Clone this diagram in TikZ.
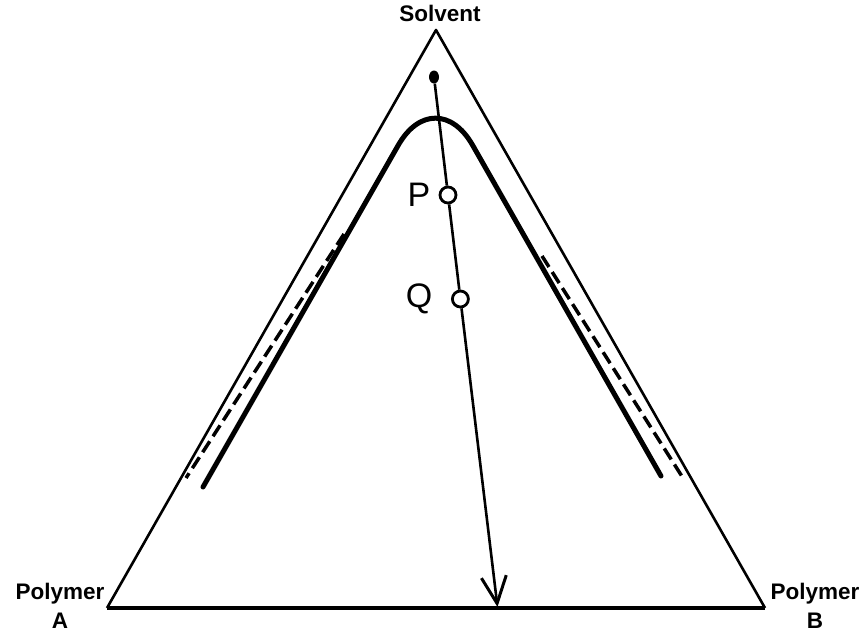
\documentclass[tikz,border=0pt]{standalone}
\usepackage{fontspec}
\setmainfont{Liberation Sans}
\usetikzlibrary{arrows.meta,shapes.geometric}
\begin{document}
\begin{tikzpicture}[x=1pt,y=-1pt,
  side/.style={line width=2.6pt,line join=round},
  base/.style={line width=3.4pt},
  binodal/.style={line width=5pt,rounded corners=75pt,line cap=round},
  spinodal/.style={line width=3.5pt,dash pattern=on 13pt off 6pt},
  tie/.style={line width=2.6pt},
  opendot/.style={circle,draw,line width=2.8pt,fill=white,minimum size=16pt,inner sep=0pt},
  fulldot/.style={ellipse,fill=black,minimum width=10pt,minimum height=13pt,inner sep=0pt},
  corner/.style={font=\bfseries\fontsize{22.5}{29}\selectfont,inner sep=0pt,anchor=base},
  letter/.style={font=\fontsize{34}{40}\selectfont,inner sep=0pt}]
\useasboundingbox (0,0) rectangle (864,632);
% vertices
\coordinate (S) at (436,30);
\coordinate (A) at (107,608);
\coordinate (B) at (765,608);
\draw[side] (A) -- (S) -- (B);
\draw[base] (A) -- (B);
% binodal curve
\coordinate (bl) at (203,487);
\coordinate (bt) at (435.5,80);
\coordinate (br) at (661,476);
\draw[binodal] (bl) -- (bt) -- (br);
% dashed (spinodal) lines
\coordinate (dl1) at (344,234);
\coordinate (dl2) at (186,478);
\coordinate (dr1) at (542,256);
\coordinate (dr2) at (683,478);
\draw[spinodal] (dl1) -- (dl2);
\draw[spinodal] (dr1) -- (dr2);
% composition path
\node[fulldot] (st) at (434,77) {};
\node[opendot] (P) at (448,195) {};
\node[opendot] (Q) at (460.4,299) {};
\coordinate (tip) at (497.5,607);
\draw[tie] (st) -- (P);
\draw[tie] (P) -- (Q);
\draw[tie,-{Straight Barb[length=27pt,width=25pt,line width=3pt]}] (Q) -- (tip);
% labels
\node[letter] (pl) at (419,195) {P};
\node[letter] (ql) at (419,299) {Q};
\node[corner] (sl) at (440,21.5) {Solvent};
\node[corner] (al) at (60,599) {\begin{tabular}[t]{@{}c@{}}Polymer\\A\end{tabular}};
\node[corner] (bl2) at (815,599) {\begin{tabular}[t]{@{}c@{}}Polymer\\B\end{tabular}};
\end{tikzpicture}
\end{document}
